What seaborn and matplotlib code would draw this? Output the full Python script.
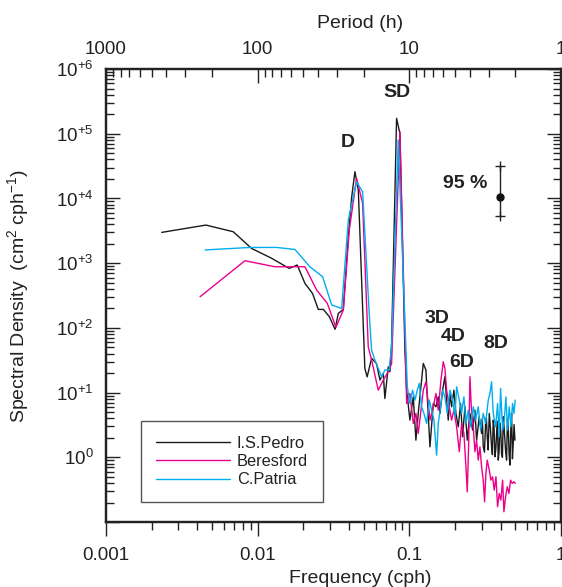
import matplotlib
matplotlib.use('Agg')
import matplotlib.pyplot as plt
import seaborn as sns
from matplotlib.ticker import FixedLocator, FixedFormatter, LogLocator, NullFormatter

sns.set_style('ticks')
plt.rcParams['font.family'] = ['Liberation Sans', 'DejaVu Sans']
plt.rcParams['mathtext.fontset'] = 'custom'
plt.rcParams['mathtext.rm'] = 'Liberation Sans'
plt.rcParams['mathtext.it'] = 'Liberation Sans:italic'
plt.rcParams['mathtext.bf'] = 'Liberation Sans:bold'

# ----- data (frequency in cph, spectral density in cm2/cph) -----
pedro_freq = [0.00233, 0.00456, 0.0069, 0.00912, 0.01236, 0.01614, 0.01823, 0.0205, 0.0230, 0.0251,
              0.0271, 0.0297, 0.0324, 0.0340, 0.0367, 0.0396, 0.0417, 0.0438, 0.0461,
              0.0509, 0.0527, 0.0564, 0.0608, 0.0640, 0.0673, 0.0690, 0.0726, 0.0745, 0.0764,
              0.0824, 0.0867, 0.0935,
              0.0960, 0.1009, 0.1062, 0.1105, 0.1145, 0.1205, 0.1236, 0.1287, 0.1313, 0.1368,
              0.1439, 0.1498, 0.1552, 0.1592, 0.1657, 0.1717, 0.1761, 0.1806, 0.1852, 0.1900,
              0.1968, 0.2029, 0.2102, 0.2178, 0.2245, 0.2326, 0.2410, 0.2510, 0.2613, 0.2707,
              0.2777, 0.2891, 0.2996, 0.3030, 0.3072, 0.3130, 0.3183, 0.3220, 0.3264, 0.3310,
              0.3366, 0.3420, 0.3486, 0.3530, 0.3575, 0.3620, 0.3668, 0.3715, 0.3764, 0.3810,
              0.3857, 0.3905, 0.3956, 0.4005, 0.4058, 0.4110, 0.4163, 0.4215, 0.4268, 0.4320,
              0.4379, 0.4435, 0.4490, 0.4550, 0.4606, 0.4665, 0.4723, 0.4785, 0.4843, 0.4905,
              0.4969]
pedro_psd = [2990, 3880, 3060, 1690, 1190, 830, 937, 487, 341, 193,
             193, 149, 95, 167, 193, 2560, 10600, 25900, 13500,
             23.7, 17.5, 33.8, 28, 15.6, 19.8, 8.1, 25, 21, 58,
             173000, 101000, 45,
             10.9, 3.76, 8.6, 1.84, 4.77, 15.6, 28.2, 22.3, 8.6, 1.45,
             6.8, 6.04, 8.6, 4.77, 10.9, 17.6, 7.66, 3.76, 9.7, 6.04,
             10.9, 4.77, 2.96, 6.8, 2.08, 6.04, 1.84, 4.77, 2.63, 5.36,
             1.84, 4.23, 2.34, 3.9, 1.45, 1.2, 3.34, 4.1, 2.08, 1.3,
             4.77, 3.0, 1.45, 1.1, 3.76, 2.9, 1.02, 1.3, 2.34, 3.6,
             0.905, 1.2, 3.34, 2.6, 1.15, 1.0, 4.23, 2.9, 1.84, 1.2,
             0.905, 4.0, 2.96, 1.1, 0.757, 2.6, 4.77, 0.95, 1.64, 3.2,
             1.84]

beresford_freq = [0.00417, 0.00824, 0.0130, 0.0205, 0.0245, 0.0288, 0.0328, 0.0367, 0.0402, 0.0449,
                  0.0492, 0.0536, 0.0564, 0.0624, 0.0673, 0.0726, 0.0764, 0.0867,
                  0.0960, 0.1009, 0.1062, 0.1105, 0.1145, 0.1187, 0.1236, 0.1287, 0.1333, 0.1368,
                  0.1439, 0.1498, 0.1552, 0.1616, 0.1674, 0.1717, 0.1761, 0.1834, 0.1900, 0.1968,
                  0.2050, 0.2135, 0.2211, 0.2291, 0.2362, 0.2410, 0.2459, 0.2510, 0.2561, 0.2640,
                  0.2707, 0.2777, 0.2848, 0.2921, 0.2996, 0.3072, 0.3135, 0.3198, 0.3264, 0.3366,
                  0.3450, 0.3540, 0.3630, 0.3726, 0.3818, 0.3917, 0.4016, 0.4121, 0.4205, 0.4313,
                  0.4424, 0.4537, 0.4651, 0.4771, 0.4894, 0.4993]
beresford_psd = [303, 1090, 880, 880, 384, 239, 102, 188, 3250, 20500,
                 8400, 51, 31.8, 10.9, 15.6, 21, 28, 107000,
                 6.8, 9.7, 3.34, 4.77, 2.34, 4.77, 10.9, 14.7, 6.8, 3.76,
                 6.04, 9.7, 5.36, 15.6, 30, 23.6, 10.9, 6.04, 3.76, 5.36,
                 2.96, 1.22, 3.34, 2.34, 0.714, 0.293, 1.45, 17.6, 6.04, 2.96,
                 1.22, 1.84, 0.905, 1.45, 0.714, 0.444, 0.205, 0.563, 0.905, 0.634,
                 0.444, 0.5, 0.311, 0.5, 0.172, 0.276, 0.218, 0.444, 0.144, 0.245,
                 0.351, 0.276, 0.444, 0.395, 0.419, 0.395]

patria_freq = [0.0045, 0.0089, 0.0133, 0.0176, 0.0221, 0.0268, 0.0308, 0.0358, 0.0396, 0.0449,
               0.0492, 0.0544, 0.0564, 0.0593, 0.0624, 0.0657, 0.0690, 0.0735, 0.0764, 0.0845,
               0.0970, 0.1009, 0.1051, 0.1089, 0.1128, 0.1163, 0.1205, 0.1248, 0.1300, 0.1354,
               0.1403, 0.1453, 0.1513, 0.1552, 0.1608, 0.1657, 0.1717, 0.1779, 0.1852, 0.1929,
               0.1998, 0.2050, 0.2135, 0.2211, 0.2291, 0.2362, 0.2447, 0.2535, 0.2640, 0.2735,
               0.2848, 0.2951, 0.3072, 0.3183, 0.3315, 0.3399, 0.3486, 0.3575, 0.3707, 0.3818,
               0.3917, 0.3998, 0.4121, 0.4226, 0.4334, 0.4445, 0.4558, 0.4675, 0.4795, 0.4894,
               0.4993]
patria_psd = [1600, 1750, 1750, 1630, 880, 617, 225, 200, 4640, 18100,
              12700, 167, 45.4, 31.8, 23.7, 17.5, 22.3, 22.3, 51, 80000,
              12.3, 6.8, 10.9, 7.66, 10.9, 13.9, 6.04, 4.77, 3.34, 7.66,
              5.36, 3.76, 1.08, 3.34, 6.04, 10.9, 8.6, 4.77, 10.9, 7.66,
              4.23, 12.3, 7.66, 4.77, 8.6, 3.34, 5.36, 2.96, 6.04, 3.76,
              6.04, 2.63, 4.77, 3.34, 7.66, 9.7, 14.7, 4.77, 2.96, 6.8,
              2.08, 11.6, 2.63, 3.76, 8.6, 2.63, 6.04, 2.96, 6.8, 4.77,
              7.66]

stations = ['I.S.Pedro', 'Beresford', 'C.Patria']
station_colors = ['#1a1a1a', '#ec008c', '#00aeef']

# tidal band labels (text, frequency, density)
band_labels = ['D', 'SD', '3D', '4D', '6D', '8D']
band_freq = [0.0394, 0.0829, 0.152, 0.194, 0.222, 0.372]
band_psd = [7.4e4, 4.4e5, 142, 74.7, 29.6, 58]

# 95 % confidence bar
ci_freq = 0.395
ci_mid = 10500
ci_low = 5350
ci_high = 31700

fig = plt.figure(figsize=(5.62, 5.87), dpi=100)
ax = fig.add_axes([0.1886, 0.1107, 0.8096, 0.7717])
ax.set_xscale('log')
ax.set_yscale('log')

for name, fr, ps, col in zip(stations,
                             [pedro_freq, beresford_freq, patria_freq],
                             [pedro_psd, beresford_psd, patria_psd],
                             station_colors):
    sns.lineplot(x=fr, y=ps, ax=ax, color=col, lw=1.0, label=name,
                 sort=False, estimator=None)

ax.set_xlim(1e-3, 1)
ax.set_ylim(1e-1, 1e6)

# bottom axis (frequency), ticks outward
ax.xaxis.set_major_locator(FixedLocator([0.001, 0.01, 0.1, 1]))
ax.xaxis.set_major_formatter(FixedFormatter(['0.001', '0.01', '0.1', '1']))
ax.xaxis.set_minor_locator(LogLocator(base=10, subs=range(2, 10), numticks=20))
ax.xaxis.set_minor_formatter(NullFormatter())
ax.tick_params(axis='x', which='major', direction='out', length=10, width=1, pad=8,
               labelsize=13.5, top=False, colors='#222222')
ax.tick_params(axis='x', which='minor', direction='out', length=6, width=1, top=False,
               colors='#222222')

# left axis (density), ticks inward on both sides
ax.yaxis.set_major_locator(FixedLocator([10.0 ** k for k in range(-1, 7)]))
ax.yaxis.set_major_formatter(FixedFormatter(
    ['', r'$10^{0}$', r'$10^{+1}$', r'$10^{+2}$', r'$10^{+3}$',
     r'$10^{+4}$', r'$10^{+5}$', r'$10^{+6}$']))
ax.yaxis.set_minor_locator(LogLocator(base=10, subs=range(2, 10), numticks=20))
ax.yaxis.set_minor_formatter(NullFormatter())
ax.tick_params(axis='y', which='major', direction='in', length=10, width=1, pad=9,
               labelsize=13.5, left=True, right=True, colors='#222222')
ax.tick_params(axis='y', which='minor', direction='in', length=6, width=1,
               left=True, right=True, colors='#222222')

for sp in ax.spines.values():
    sp.set_linewidth(1.6)
    sp.set_color('#222222')

# top axis (period)
ax_top = ax.twiny()
ax_top.set_xscale('log')
ax_top.set_xlim(1000, 1)
ax_top.xaxis.set_major_locator(FixedLocator([1000, 100, 10, 1]))
ax_top.xaxis.set_major_formatter(FixedFormatter(['1000', '100', '10', '1']))
ax_top.xaxis.set_minor_locator(LogLocator(base=10, subs=range(2, 10), numticks=20))
ax_top.xaxis.set_minor_formatter(NullFormatter())
ax_top.tick_params(axis='x', which='major', direction='in', length=10, width=1, pad=8,
                   labelsize=13.5, colors='#222222')
ax_top.tick_params(axis='x', which='minor', direction='in', length=6, width=1,
                   colors='#222222')
ax_top.set_xlabel('Period (h)', fontsize=14, color='#222222')
ax_top.xaxis.set_label_coords(0.558, 1.09)
for sp in ax_top.spines.values():
    sp.set_linewidth(1.6)
    sp.set_color('#222222')

ax.set_xlabel('Frequency (cph)', fontsize=14, color='#222222')
ax.xaxis.set_label_coords(0.558, -0.105)
ax.set_ylabel(r'Spectral Density  (cm$^{2}$ cph$^{-1}$)', fontsize=14, color='#222222')
ax.yaxis.set_label_coords(-0.165, 0.5)

for txt, fx, py in zip(band_labels, band_freq, band_psd):
    ax.text(fx, py, txt, fontsize=14, fontweight='bold', color='#222222',
            ha='center', va='center')

ax.text(0.2325, 17300, '95 %', fontsize=14, fontweight='bold', color='#222222',
        ha='center', va='center')
ax.plot([ci_freq, ci_freq], [ci_low, ci_high], color='#222222', lw=1)
ax.plot([ci_freq, ci_freq], [ci_low, ci_high], ls='none', marker='+', ms=7,
        mew=1, color='#222222')
ax.plot([ci_freq], [ci_mid], ls='none', marker='o', ms=5, color='#111111')

leg = ax.legend(loc='lower left', bbox_to_anchor=(0.077, 0.044), borderaxespad=0,
                fontsize=11.8, handlelength=4.5, handletextpad=0.45,
                labelspacing=0.2, borderpad=0.9, fancybox=False, framealpha=1,
                edgecolor='#555555')
leg.get_frame().set_linewidth(1.0)
for t in leg.get_texts():
    t.set_color('#222222')

fig.savefig('out.png', dpi=100)
